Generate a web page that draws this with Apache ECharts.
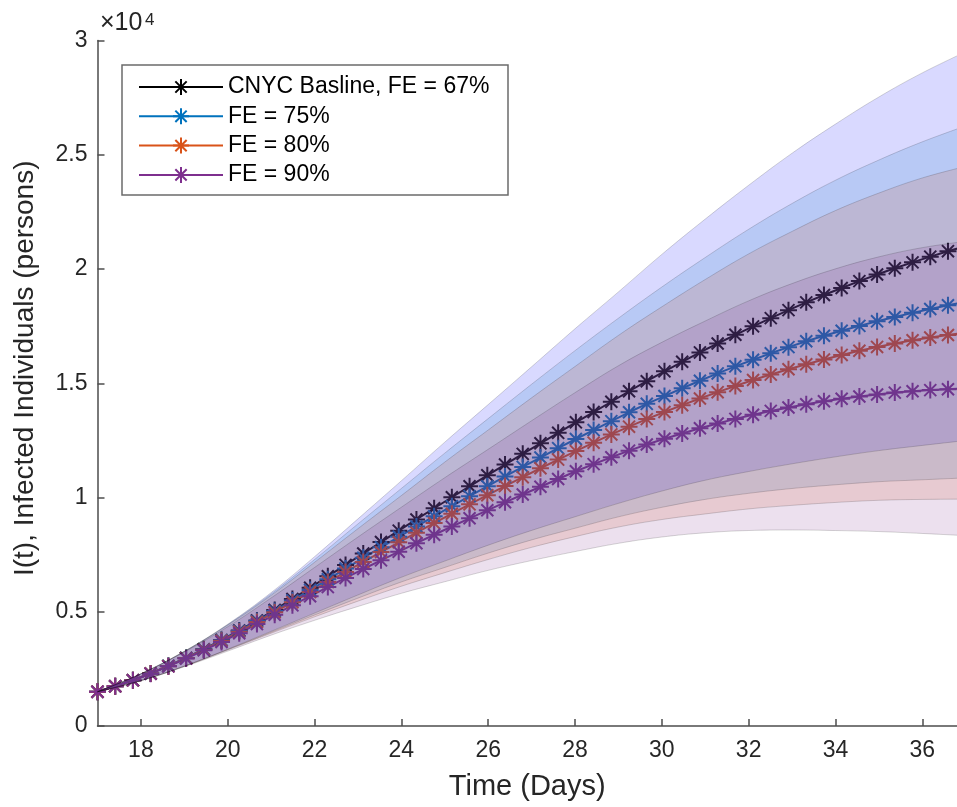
<!DOCTYPE html>
<html>
<head>
<meta charset="utf-8">
<script src="https://cdn.jsdelivr.net/npm/echarts@6/dist/echarts.min.js"></script>
<style>
  html, body { margin: 0; padding: 0; background: #fff; }
  #chart { width: 957px; height: 807px; }
</style>
</head>
<body>
<div id="chart"></div>
<script>
// sample days of the model output (one marker per sample)
const days = [
  17.000, 17.408, 17.816, 18.224, 18.633, 19.041, 19.449, 19.857, 20.265, 20.673,
  21.082, 21.490, 21.898, 22.306, 22.714, 23.122, 23.531, 23.939, 24.347, 24.755,
  25.163, 25.571, 25.980, 26.388, 26.796, 27.204, 27.612, 28.020, 28.429, 28.837,
  29.245, 29.653, 30.061, 30.469, 30.878, 31.286, 31.694, 32.102, 32.510, 32.918,
  33.327, 33.735, 34.143, 34.551, 34.959, 35.367, 35.776, 36.184, 36.592, 37.000
];
// infected individuals (persons)
const fe67 = [
  1500, 1740, 2000, 2300, 2630, 2980, 3360, 3760, 4180, 4620,
  5080, 5560, 6050, 6550, 7050, 7550, 8050, 8550, 9040, 9530,
  10010, 10490, 10970, 11440, 11910, 12370, 12830, 13290, 13740, 14190,
  14650, 15090, 15520, 15940, 16350, 16740, 17120, 17490, 17850, 18200,
  18540, 18860, 19170, 19470, 19760, 20030, 20290, 20540, 20780, 21000
];
const fe75 = [
  1500, 1740, 2000, 2300, 2630, 2980, 3350, 3750, 4160, 4590,
  5030, 5490, 5950, 6420, 6890, 7360, 7820, 8280, 8730, 9180,
  9620, 10060, 10490, 10920, 11340, 11750, 12160, 12560, 12950, 13340,
  13730, 14100, 14440, 14780, 15110, 15430, 15740, 16030, 16310, 16580,
  16840, 17080, 17300, 17510, 17710, 17900, 18080, 18250, 18410, 18560
];
const fe80 = [
  1500, 1740, 2000, 2300, 2620, 2970, 3340, 3730, 4130, 4550,
  4980, 5420, 5860, 6300, 6740, 7180, 7610, 8040, 8460, 8880,
  9290, 9700, 10100, 10500, 10890, 11280, 11660, 12030, 12400, 12760,
  13100, 13430, 13740, 14040, 14330, 14610, 14880, 15140, 15380, 15610,
  15830, 16040, 16240, 16420, 16590, 16740, 16880, 17000, 17110, 17210
];
const fe90 = [
  1500, 1740, 2000, 2290, 2610, 2950, 3310, 3680, 4060, 4460,
  4870, 5280, 5680, 6080, 6480, 6870, 7250, 7630, 8000, 8370,
  8730, 9090, 9440, 9790, 10130, 10470, 10810, 11150, 11460, 11760,
  12050, 12320, 12570, 12800, 13030, 13240, 13440, 13620, 13790, 13940,
  14080, 14210, 14320, 14420, 14510, 14590, 14650, 14700, 14740, 14770
];

// uncertainty bands, sampled once a day
const bandDays = [17, 18, 19, 20, 21, 22, 23, 24, 25, 26, 27, 28, 29, 30, 31, 32, 33, 34, 35, 36, 37];
const fe67Low  = [1500, 1986, 2621, 3360, 4142, 4940, 5735, 6508, 7218, 7913, 8559, 9156, 9743, 10281, 10755, 11136, 11474, 11779, 12052, 12278, 12495];
const fe67High = [1500, 2284, 3269, 4454, 5838, 7410, 9065, 10732, 12422, 14067, 15721, 17384, 18997, 20639, 22185, 23664, 25066, 26341, 27528, 28582, 29505];
const fe75Low  = [1500, 1986, 2621, 3345, 4100, 4856, 5596, 6304, 6938, 7567, 8143, 8653, 9153, 9569, 9917, 10182, 10394, 10556, 10691, 10775, 10858];
const fe75High = [1500, 2284, 3269, 4435, 5780, 7284, 8845, 10396, 11942, 13453, 14957, 16427, 17847, 19211, 20503, 21738, 22866, 23884, 24769, 25565, 26262];
const fe80Low  = [1500, 1986, 2612, 3328, 4059, 4776, 5464, 6116, 6711, 7286, 7818, 8287, 8708, 9035, 9280, 9500, 9656, 9783, 9877, 9916, 9930];
const fe80High = [1500, 2284, 3258, 4412, 5721, 7164, 8636, 10085, 11549, 12954, 14362, 15733, 17093, 18345, 19540, 20660, 21644, 22557, 23323, 23984, 24490];
const fe90Low  = [1500, 1981, 2595, 3277, 3976, 4624, 5231, 5806, 6314, 6811, 7241, 7633, 7995, 8270, 8456, 8555, 8578, 8554, 8509, 8426, 8330];
const fe90High = [1500, 2279, 3237, 4343, 5604, 6936, 8269, 9574, 10866, 12109, 13359, 14587, 15765, 16790, 17724, 18605, 19362, 20006, 20531, 20934, 21210];

const xTicks = [18, 20, 22, 24, 26, 28, 30, 32, 34, 36];
const names = ['CNYC Basline, FE = 67%', 'FE = 75%', 'FE = 80%', 'FE = 90%'];

const FONT = "'Liberation Sans', Arial, Helvetica, sans-serif";
const star = 'path://M5 0L5 10M0 5L10 5M1.46 1.46L8.54 8.54M1.46 8.54L8.54 1.46';

function meanLine(name, values, color) {
  return {
    name: name,
    type: 'line',
    z: 2,
    data: days.map((d, i) => [d, values[i]]),
    symbol: star,
    symbolSize: 17,
    showSymbol: true,
    lineStyle: { color: color, width: 2 },
    itemStyle: { color: color, borderColor: color, borderWidth: 2 },
    emphasis: { disabled: true },
    silent: true
  };
}

// value first so that the stack is applied on y; x comes from column 1
function band(id, low, high, fill) {
  const edge = { color: 'rgba(0,0,0,0.16)', width: 1 };
  return [{
    type: 'line', stack: id, z: 3, smooth: 0.4, symbol: 'none', silent: true,
    encode: { x: 1, y: 0 },
    data: bandDays.map((d, i) => [low[i], d]),
    lineStyle: edge
  }, {
    type: 'line', stack: id, z: 3, smooth: 0.4, symbol: 'none', silent: true,
    encode: { x: 1, y: 0 },
    data: bandDays.map((d, i) => [high[i] - low[i], d]),
    lineStyle: edge,
    areaStyle: { color: fill, opacity: 1 }
  }];
}

const chart = echarts.init(document.getElementById('chart'));
const option = {
  animation: false,
  backgroundColor: '#fff',
  textStyle: { fontFamily: FONT },
  grid: { left: 97.5, right: 0, top: 40.5, bottom: 81, containLabel: false, outerBoundsMode: 'none' },
  legend: {
    data: names,
    orient: 'vertical',
    left: 138,
    top: 75,
    padding: 0,
    itemWidth: 84,
    itemHeight: 20,
    itemGap: 5.3,
    z: 20,
    textStyle: { fontFamily: FONT, fontSize: 23, color: '#000', lineHeight: 24 }
  },
  xAxis: {
    type: 'value',
    min: 17,
    max: 36.8,
    name: 'Time (Days)',
    nameLocation: 'middle',
    nameGap: 46,
    nameTextStyle: { fontFamily: FONT, fontSize: 29, color: '#262626' },
    axisLine: { lineStyle: { color: '#4d4d4d', width: 1.5 } },
    axisTick: { inside: true, length: 7, customValues: xTicks, lineStyle: { color: '#4d4d4d', width: 1.5 } },
    axisLabel: { customValues: xTicks, fontFamily: FONT, fontSize: 23, color: '#262626', margin: 13 },
    splitLine: { show: false }
  },
  yAxis: {
    type: 'value',
    min: 0,
    max: 30000,
    interval: 5000,
    name: 'I(t), Infected Individuals (persons)',
    nameLocation: 'middle',
    nameGap: 58,
    nameTextStyle: { fontFamily: FONT, fontSize: 28, color: '#262626', padding: [0, 0, 0, 30] },
    axisLine: { show: true, lineStyle: { color: '#4d4d4d', width: 1.5 } },
    axisTick: { show: true, inside: true, length: 7, lineStyle: { color: '#4d4d4d', width: 1.5 } },
    axisLabel: { fontFamily: FONT, fontSize: 23, color: '#262626', margin: 10, formatter: v => String(v / 10000) },
    splitLine: { show: false }
  },
  graphic: [
    {
      type: 'rect', z: 10, silent: true,
      shape: { x: 122, y: 65, width: 386, height: 130 },
      style: { fill: '#fff', stroke: '#6b6b6b', lineWidth: 1.5 }
    },
    {
      type: 'text', z: 10, silent: true,
      style: { text: '×10', x: 100, y: 36, font: '25px ' + FONT, fill: '#262626', textVerticalAlign: 'bottom' }
    },
    {
      type: 'text', z: 10, silent: true,
      style: { text: '4', x: 145, y: 29, font: '17px ' + FONT, fill: '#262626', textVerticalAlign: 'bottom' }
    }
  ],
  series: [
    meanLine(names[0], fe67, '#000000'),
    meanLine(names[1], fe75, '#0072BD'),
    meanLine(names[2], fe80, '#D95319'),
    meanLine(names[3], fe90, '#7E2F8E'),
    ...band('b67', fe67Low, fe67High, 'rgba(0,0,255,0.15)'),
    ...band('b75', fe75Low, fe75High, 'rgba(0,114,189,0.15)'),
    ...band('b80', fe80Low, fe80High, 'rgba(217,83,25,0.15)'),
    ...band('b90', fe90Low, fe90High, 'rgba(126,47,142,0.15)')
  ]
};
chart.setOption(option);
</script>
</body>
</html>
